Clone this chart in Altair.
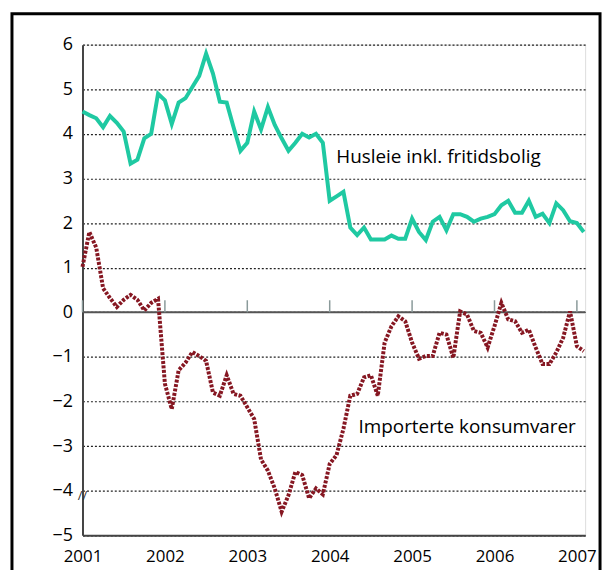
import altair as alt
import pandas as pd

# Monthly data, Jan 2001 .. Feb 2007
husleie = [4.5, 4.42, 4.35, 4.15, 4.4, 4.25, 4.05, 3.33, 3.42, 3.9, 4.0, 4.9,
           4.75, 4.22, 4.7, 4.8, 5.05, 5.3, 5.8, 5.35, 4.72, 4.7, 4.15, 3.62,
           3.8, 4.5, 4.1, 4.6, 4.2, 3.9, 3.62, 3.8, 4.0, 3.92, 4.0, 3.8,
           2.5, 2.6, 2.7, 1.9, 1.73, 1.9, 1.63, 1.63, 1.63, 1.72, 1.65, 1.65,
           2.1, 1.8, 1.62, 2.03, 2.14, 1.84, 2.2, 2.2, 2.14, 2.03, 2.1, 2.14,
           2.2, 2.4, 2.5, 2.23, 2.23, 2.5, 2.14, 2.21, 2.0, 2.44, 2.29, 2.04,
           2.0, 1.8]
importerte = [1.02, 1.8, 1.45, 0.54, 0.32, 0.12, 0.28, 0.39, 0.28, 0.04, 0.21, 0.30,
              -1.6, -2.17, -1.3, -1.13, -0.89, -0.98, -1.09, -1.8, -1.87, -1.41, -1.83, -1.87,
              -2.13, -2.39, -3.3, -3.55, -3.95, -4.47, -4.1, -3.58, -3.65, -4.17, -3.95, -4.08,
              -3.4, -3.2, -2.61, -1.87, -1.83, -1.46, -1.41, -1.87, -0.68, -0.31, -0.09, -0.2,
              -0.68, -1.04, -0.98, -0.98, -0.46, -0.5, -1.02, 0.02, -0.05, -0.42, -0.46, -0.79,
              -0.31, 0.21, -0.16, -0.2, -0.46, -0.39, -0.79, -1.16, -1.16, -0.9, -0.57, 0.02,
              -0.76, -0.87]
years = [2001, 2002, 2003, 2004, 2005, 2006, 2007]
y_ticks = [-5, -4, -3, -2, -1, 0, 1, 2, 3, 4, 5, 6]
labels = ["Husleie inkl. fritidsbolig", "Importerte konsumvarer"]
label_x = [2004.08, 2004.35]
label_y = [3.47, -2.57]

FONT = "Open Sans"
TEAL = "#1fc9a2"
RED = "#861722"

t = [2001 + i / 12 for i in range(len(husleie))]
df_h = pd.DataFrame({"t": t, "v": husleie})
df_i = pd.DataFrame({"t": t, "v": importerte})
df_years = pd.DataFrame({"t": years, "y0": 0, "y1": 0.27})
df_lab = pd.DataFrame({"t": label_x, "v": label_y, "text": labels})

xscale = alt.Scale(domain=[2001, 2007.1], nice=False, zero=False)
yscale = alt.Scale(domain=[-5, 6], nice=False, zero=False)

xaxis = alt.Axis(values=years, format="d", title=None, ticks=False, grid=False,
                 domainColor="#444", domainWidth=2, labelFontSize=17, labelFont=FONT,
                 labelColor="#000", labelPadding=13, labelFlush=False)
yaxis = alt.Axis(values=y_ticks, format="d", title=None, ticks=False, grid=True,
                 gridDash=[2, 2], gridColor="#222", gridWidth=1.2,
                 domainColor="#444", domainWidth=2, labelFontSize=18, labelFont=FONT,
                 labelColor="#000", labelPadding=10)

base_h = alt.Chart(df_h).mark_line(color=TEAL, strokeWidth=4).encode(
    x=alt.X("t:Q", scale=xscale, axis=xaxis),
    y=alt.Y("v:Q", scale=yscale, axis=yaxis),
)
line_i = alt.Chart(df_i).mark_line(color=RED, strokeWidth=4, strokeDash=[3, 1.5]).encode(
    x="t:Q", y="v:Q"
)
zero = alt.Chart(pd.DataFrame({"y": [0]})).mark_rule(color="#555", strokeWidth=2).encode(
    y="y:Q", x=alt.value(0), x2=alt.value(506)
)
yticks = alt.Chart(df_years).mark_rule(color="#8a9a9a", strokeWidth=1.5).encode(
    x="t:Q", y="y0:Q", y2="y1:Q"
)
text = alt.Chart(df_lab).mark_text(align="left", baseline="middle", fontSize=19,
                                   font=FONT, color="#000").encode(
    x="t:Q", y="v:Q", text="text:N"
)
brk = alt.Chart(pd.DataFrame({"t": [2001], "v": [-4.12], "s": ["//"]})).mark_text(
    fontSize=13, font=FONT, color="#333", align="center", baseline="middle"
).encode(x="t:Q", y="v:Q", text="s:N")
frame = alt.Chart(pd.DataFrame({"a": [1]})).mark_rect(
    fill=None, stroke="#000", strokeWidth=3
).encode(x=alt.value(-71), x2=alt.value(521), y=alt.value(-31), y2=alt.value(640))

chart = alt.layer(base_h, zero, yticks, line_i, text, brk, frame).properties(
    width=506, height=494,
    autosize=alt.AutoSizeParams(type="none"),
    padding={"left": 75, "top": 35, "right": 20, "bottom": 33},
).configure_view(stroke=None).configure(background="white")

chart.save("out.html", embed_options={"renderer": "svg", "actions": False})
